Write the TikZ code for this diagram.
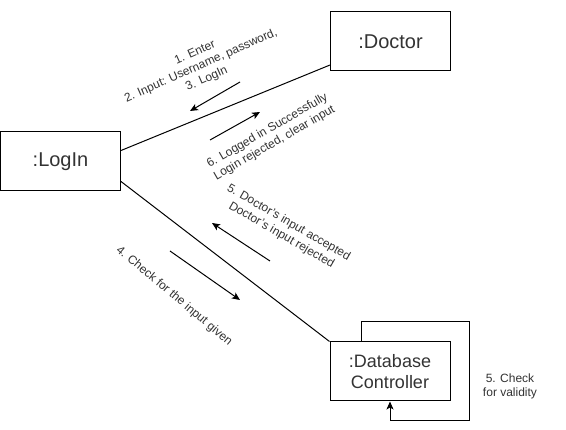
\documentclass[tikz,border=0pt]{standalone}
\usepackage{fontspec}
\setmainfont{Liberation Sans}
\usetikzlibrary{arrows.meta}
\definecolor{txt}{HTML}{333333}
\begin{document}
\begin{tikzpicture}[x=1pt,y=-1pt,
  obj/.style={draw, line width=1pt, minimum width=120pt, minimum height=59pt, inner sep=0pt, text=txt, font=\fontsize{20}{24}\selectfont, align=center},
  lbl/.style={text=txt, font=\fontsize{12}{14.4}\selectfont, align=center, inner sep=0pt},
  link/.style={line width=1pt},
  msg/.style={line width=1pt, -{Stealth[length=8pt,width=7pt,inset=2pt]}}]
\useasboundingbox (0,0) rectangle (566,430);
\fill[white] (0,0) rectangle (566,430);

\node[obj] (login) at (60.5,161.5) {:LogIn};
\node[obj] (doctor) at (390.5,41.5) {:Doctor};
\node[obj, font=\fontsize{18}{21.6}\selectfont] (db) at (390,371.5) {:Database\\Controller};

\draw[link] ([yshift=11pt]login.east) -- ([yshift=-23.5pt]doctor.west);
\draw[link] ([yshift=-20pt]login.east) -- (db.north west);

\coordinate (loopR) at (469,322);
\coordinate (loopB) at (469,421);
\draw[msg] ([xshift=-29pt]db.north) |- (loopR) -- (loopB) -| (db.south);

\coordinate (a1s) at (240,82);  \coordinate (a1e) at (190,111);
\coordinate (a2s) at (210,140); \coordinate (a2e) at (260,112);
\coordinate (a3s) at (270,261); \coordinate (a3e) at (212,223);
\coordinate (a4s) at (170,251); \coordinate (a4e) at (240,300);
\draw[msg] (a1s) -- (a1e);
\draw[msg] (a2s) -- (a2e);
\draw[msg] (a3s) -- (a3e);
\draw[msg] (a4s) -- (a4e);

\node[lbl, rotate=24] (m1) at (201,66) {1. Enter\\2. Input: Username, password,\\3. LogIn};
\node[lbl, rotate=30] (m2) at (271,137) {6. Logged in Successfully\\Login rejected, clear input};
\node[lbl, rotate=-30] (m3) at (285,229) {5. Doctor's input accepted\\Doctor's input rejected};
\node[lbl, rotate=-40] (m4) at (174,296) {4. Check for the input given};
\node[lbl] (m5) at (510,386.5) {5. Check\\for validity};
\end{tikzpicture}
\end{document}
